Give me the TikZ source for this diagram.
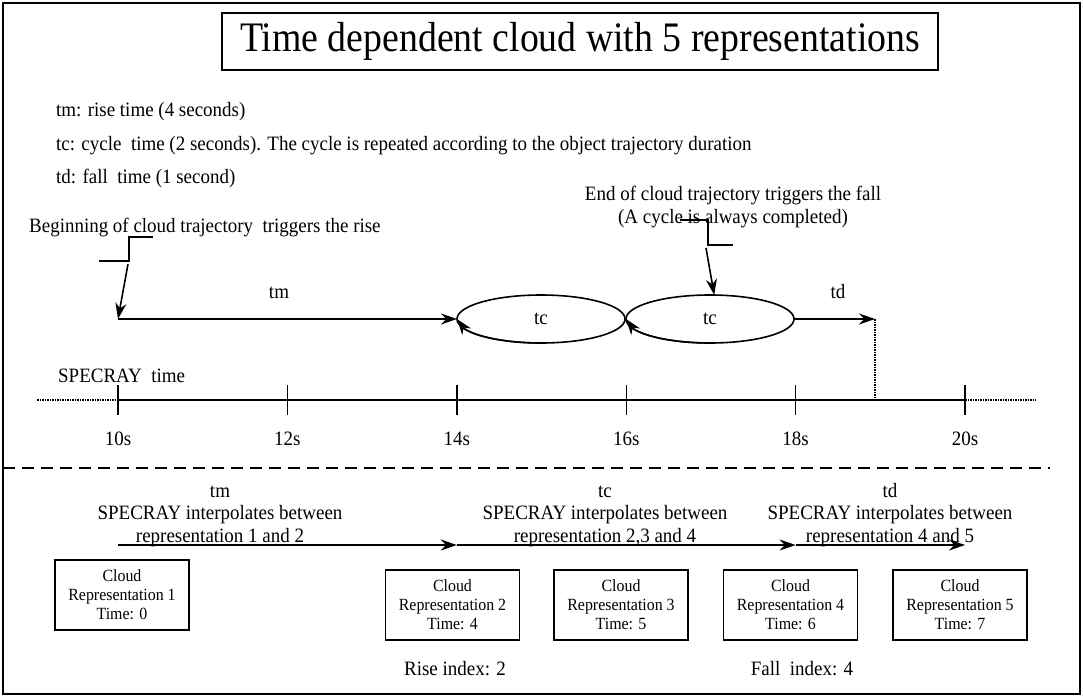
\documentclass[tikz,border=0pt]{standalone}
\usepackage{fontspec}
\setmainfont[FakeStretch=0.93]{Liberation Serif}
\newfontfamily\titlefont[FakeStretch=0.9]{Liberation Serif}
\usetikzlibrary{positioning, arrows.meta, bending, shapes.geometric}
\tikzset{
  lbl/.style={inner sep=0pt, font=\fontsize{20.4}{22.5}\selectfont},
  cloudbox/.style={draw, line width=1.4pt, minimum width=134pt, minimum height=70pt, align=center, inner sep=0pt, font=\fontsize{17.1}{19}\selectfont},
  cyc/.style={draw, ellipse, line width=1.6pt, minimum width=168pt, minimum height=48pt, inner sep=0pt, outer sep=0pt, font=\fontsize{20.4}{22}\selectfont},
  wire/.style={->, >={Stealth[length=16pt, width=11pt]}, line width=1.6pt},
  loopwire/.style={-{Stealth[length=16pt, width=11pt, flex]}, line width=1.6pt},
  stepline/.style={line width=1.4pt},
  dotline/.style={line width=1.6pt, dash pattern=on 1.5pt off 1pt}
}

\begin{document}
\begin{tikzpicture}[x=1pt, y=-1pt]
  \useasboundingbox (0,0) rectangle (1083,698);
  \draw[line width=1.5pt] (3,3) rectangle (1080,694);
  \node[draw, line width=1.2pt, minimum width=716pt, minimum height=57pt, inner sep=0pt,
        font=\titlefont\fontsize{42}{50}\selectfont] (title) at (580,41.5) {Time dependent cloud with 5 representations};

  \node[lbl, anchor=base west] (tmdef) at (56,117) {tm: rise time (4 seconds)};
  \node[lbl, anchor=base west] (tcdef) at (56,150) {tc: cycle~ time (2 seconds). The cycle is repeated according to the object trajectory duration};
  \node[lbl, anchor=base west] (tddef) at (56,183) {td: fall~ time (1 second)};

  % triggers
  \node[lbl, anchor=base west] (risetxt) at (29,232) {Beginning of cloud trajectory~ triggers the rise};
  \node[lbl, align=center, font=\fontsize{20.4}{23}\selectfont] (falltxt) at (733,207) {End of cloud trajectory triggers the fall\\(A cycle is always completed)};
  \draw[stepline] (99,261) -- (129,261) -- (129,237) -- (153,237);
  \draw[stepline] (680,220) -- (708,220) -- (708,245) -- (733,245);
  \coordinate (trig1) at (128,264);
  \coordinate (trig2) at (706,248);
  \coordinate (rise) at (118,319);
  \coordinate (fall) at (875,319);

  % rise, cycles, fall
  \node[cyc] (e1) at (541,319) {tc};
  \node[cyc] (e2) at (710,319) {tc};
  \draw[loopwire] (e1.south) arc[start angle=270, end angle=180, x radius=84pt, y radius=24pt];
  \draw[loopwire] (e2.south) arc[start angle=270, end angle=180, x radius=84pt, y radius=24pt];
  \draw[wire] (trig1) -- (rise);
  \draw[wire] (trig2) -- (e2.80);
  \draw[wire] (rise) -- (e1.west);
  \node[lbl, anchor=base] (tmlab) at (279,298) {tm};
  \draw[wire] (e2.east) -- (fall);
  \node[lbl, anchor=base] (tdlab) at (838,298) {td};

  % time axis
  \foreach \s [count=\i from 0] in {10,12,14,16,18,20} {
    \coordinate (t\s) at ({118+\i*169.4},400);
    \draw[line width=1.4pt] (t\s) ++(0,-15) -- ++(0,30);
    \node[lbl, anchor=base] (l\s) at ({118+\i*169.4},445) {\s s};
  }
  \coordinate (tlstart) at (37,400);
  \coordinate (tlend) at (1036,400);
  \draw[dotline] (tlstart) -- (t10);
  \draw[line width=1.6pt] (t10) -- (t20);
  \draw[dotline] (t20) -- (tlend);
  \draw[dotline] (fall) -- (fall |- t10);
  \node[lbl, anchor=base west] (clock) at (58,382) {SPECRAY~ time};

  \draw[line width=1.6pt, dash pattern=on 12pt off 7pt] (3,468) -- (1050,468);

  % interpolation
  \node[lbl, align=center] (tmint) at (220,514) {\strut tm\\SPECRAY interpolates between\\representation 1 and 2};
  \node[lbl, align=center] (tcint) at (605,514) {\strut tc\\SPECRAY interpolates between\\representation 2,3 and 4};
  \node[lbl, align=center] (tdint) at (890,514) {\strut td\\SPECRAY interpolates between\\representation 4 and 5};
  \coordinate (i10) at (t10 |- 0,545);
  \coordinate (i14) at (t14 |- 0,545);
  \coordinate (i18) at (t18 |- 0,545);
  \coordinate (i20) at (t20 |- 0,545);
  \draw[wire] (i10) -- (i14);
  \draw[wire] (i14) -- (i18);
  \draw[wire] (i18) -- (i20);

  \node[cloudbox] (b1) at (122,595) {Cloud\\Representation 1\\Time: 0};
  \node[cloudbox] (b2) at (452.5,605) {Cloud\\Representation 2\\Time: 4};
  \node[cloudbox] (b3) at (621,605) {Cloud\\Representation 3\\Time: 5};
  \node[cloudbox] (b4) at (790.5,605) {Cloud\\Representation 4\\Time: 6};
  \node[cloudbox] (b5) at (960,605) {Cloud\\Representation 5\\Time: 7};
  \node[lbl, anchor=base] (riseidx) at (455,675) {Rise index: 2};
  \node[lbl, anchor=base] (fallidx) at (802,675) {Fall~ index: 4};
\end{tikzpicture}
\end{document}
